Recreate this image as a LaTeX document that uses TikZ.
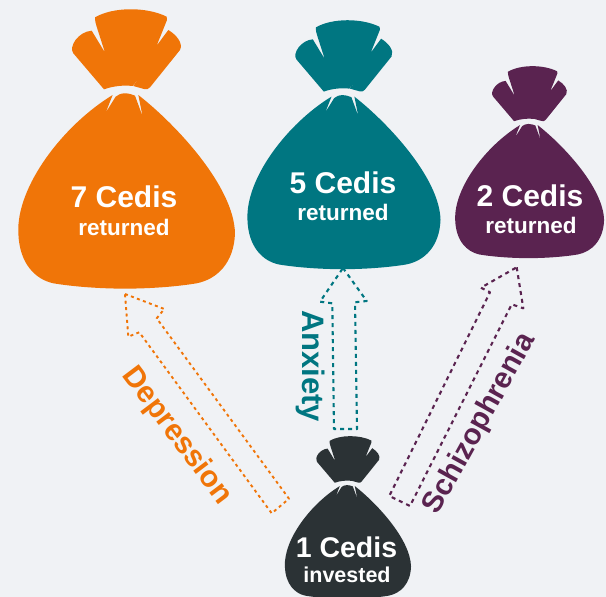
\documentclass[tikz,border=0pt]{standalone}
\usepackage{fontspec}
\setmainfont{Liberation Sans}
\definecolor{bgc}{HTML}{F0F2F5}
\definecolor{orangec}{HTML}{F07508}
\definecolor{tealc}{HTML}{007681}
\definecolor{purplec}{HTML}{5A2350}
\definecolor{darkc}{HTML}{2B3235}
\tikzset{
  x=1pt,y=-1pt,
  bigtxt/.style={text=white,font=\bfseries\fontsize{30}{34}\selectfont,inner sep=0pt},
  smalltxt/.style={text=white,font=\bfseries\fontsize{22.5}{26}\selectfont,inner sep=0pt},
  lab/.style={font=\bfseries\fontsize{30}{34}\selectfont,inner sep=0pt},
  blockarrow/.style={line width=2.1pt,dash pattern=on 4pt off 4pt,line join=round},
  bag/.pic={
    \fill[pic actions,shift={(-375,-27)}]
      (285,52) .. controls (340,20) and (440,20) .. (500,50)
      -- (501,60) -- (470,137) -- (505,90)
      .. controls (530,105) and (550,130) .. (540,150)
      -- (450,262) .. controls (445,268) and (440,269) .. (432,267)
      -- (414,262) -- (400,258) -- (432,212) -- (398,258)
      .. controls (370,255) and (340,258) .. (312,268)
      -- (220,160) .. controls (205,140) and (235,95) .. (275,92)
      -- (315,158) -- (290,80) .. controls (287,70) and (284,60) .. (285,52) -- cycle;
    \fill[pic actions,shift={(-375,-27)}]
      (375,280) .. controls (362,280) and (355,284) .. (347,290)
      -- (317,338) -- (338,285)
      .. controls (190,375) and (48,560) .. (55,700)
      .. controls (58,790) and (105,838) .. (160,850)
      .. controls (220,860) and (300,866) .. (375,866)
      .. controls (450,866) and (530,860) .. (590,850)
      .. controls (650,838) and (702,790) .. (705,700)
      .. controls (702,560) and (530,375) .. (415,285)
      -- (428,350) -- (405,287)
      .. controls (397,284) and (388,280) .. (375,280) -- cycle;
  }
}
\begin{document}
\begin{tikzpicture}
\useasboundingbox (0,0) rectangle (606,597);
\fill[bgc] (0,0) rectangle (606,597);
\pic[fill=orangec,scale=0.3333] at (125,9) {bag};
\pic[fill=tealc,scale=0.297] at (342.5,20) {bag};
\pic[fill=purplec,scale=0.229] at (528.5,66) {bag};
\pic[fill=darkc,scale=0.194] at (347,436) {bag};
\node[bigtxt] (seven) at (124,197) {7 Cedis};
\node[smalltxt] (sevenr) at (124,227) {returned};
\node[bigtxt] (five) at (343,183) {5 Cedis};
\node[smalltxt] (fiver) at (343,212) {returned};
\node[bigtxt] (two) at (530,196) {2 Cedis};
\node[smalltxt] (twor) at (531,225) {returned};
\node[bigtxt,font=\bfseries\fontsize{28.5}{34}\selectfont] (one) at (346.5,547) {1 Cedis};
\node[smalltxt,font=\bfseries\fontsize{21.5}{26}\selectfont] (oner) at (347,575) {invested};
\node[lab,text=orangec,rotate=-53] (dep) at (177,436) {Depression};
\node[lab,text=tealc,rotate=-90,font=\bfseries\fontsize{31}{34}\selectfont] (anx) at (311,366) {Anxiety};
\node[lab,text=purplec,rotate=61,font=\bfseries\fontsize{29.5}{34}\selectfont] (sch) at (480,424) {Schizophrenia};
\draw[blockarrow,orangec,line width=1.9pt,dash pattern=on 3pt off 3.4pt]
  (125,294) -- (164.3,309) -- (156.7,318.3) -- (289,498.7) -- (271.7,513.3)
  -- (139.3,332.3) -- (128.3,336.7) -- cycle;
\draw[blockarrow,tealc]
  (343,268) -- (366.7,301) -- (355,302.3) -- (357,429) -- (334,429)
  -- (332.3,303.3) -- (320,301.7) -- cycle;
\draw[blockarrow,purplec]
  (516.7,267.3) -- (523.3,308.3) -- (511.7,304.3) -- (410,506) -- (389.3,496)
  -- (490,292.3) -- (481,287.7) -- cycle;
\end{tikzpicture}
\end{document}
